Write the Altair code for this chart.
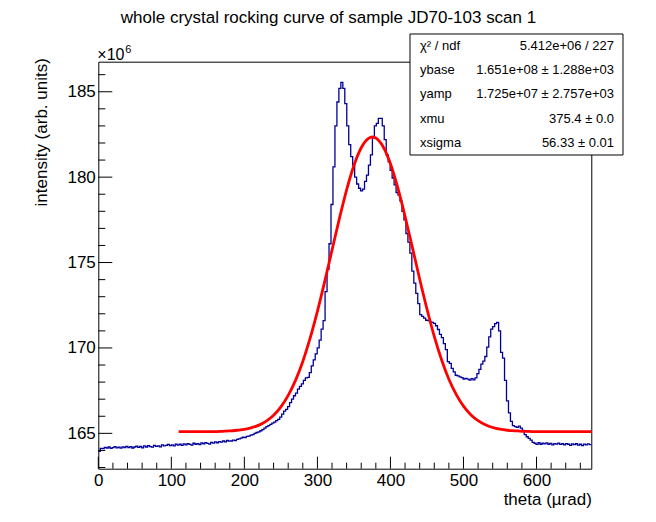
import altair as alt
import pandas as pd
import numpy as np

# ---------------- data ----------------
x_min = 0.0
x_max = 675.0
n_bins = 250

# histogram contents (units of 1e6), one value per bin
intensity = [
    163.95, 164.12, 164.10, 164.18, 164.14, 164.20, 164.12, 164.16, 164.22, 164.15,
    164.19, 164.13, 164.21, 164.17, 164.24, 164.16, 164.22, 164.14, 164.20, 164.25,
    164.18, 164.23, 164.15, 164.26, 164.20, 164.28, 164.22, 164.19, 164.30, 164.24,
    164.27, 164.21, 164.33, 164.26, 164.30, 164.35, 164.28, 164.33, 164.26, 164.37,
    164.31, 164.36, 164.29, 164.38, 164.33, 164.40, 164.35, 164.31, 164.42, 164.36,
    164.40, 164.34, 164.44, 164.39, 164.46, 164.41, 164.37, 164.47, 164.43, 164.50,
    164.45, 164.52, 164.48, 164.55, 164.50, 164.58, 164.54,
    164.55, 164.60, 164.57, 164.65, 164.68, 164.72, 164.77, 164.75, 164.82, 164.84,
    164.90, 164.93, 165.00, 165.05, 165.08, 165.15, 165.22, 165.30, 165.39, 165.45,
    165.52, 165.60, 165.66, 165.74, 165.82, 165.95, 166.12, 166.30, 166.40, 166.56,
    166.80, 167.00, 167.20, 167.36, 167.59, 167.75, 167.90, 168.10, 168.25, 168.28,
    168.55, 168.95, 169.30, 169.65, 170.00, 170.46, 171.10, 171.60, 173.30, 174.60,
    176.10, 178.40, 180.60, 183.00, 184.40, 185.20, 185.55, 185.20, 184.30, 183.00,
    181.90, 181.20, 180.70, 180.00, 179.60, 179.35, 179.20, 179.30, 179.75, 180.12,
    180.70, 181.30, 182.30, 183.00, 183.15, 183.44, 183.44, 183.00, 182.20, 181.30,
    180.90, 180.40, 179.95, 179.55, 179.10, 178.95, 178.60, 178.00, 177.50, 176.70,
    176.20, 175.55, 174.50,
    173.80, 173.20, 172.60, 171.95, 171.85, 171.75, 171.62, 171.60, 171.53, 171.50,
    171.44, 171.30, 171.08, 170.80, 170.60, 170.25, 169.90, 169.20, 169.10, 168.80,
    168.60, 168.40, 168.36, 168.31, 168.26, 168.18, 168.22, 168.17, 168.12, 168.20,
    168.13, 168.25, 168.50, 168.75, 169.05, 169.23, 169.50, 170.05, 170.65, 171.10,
    171.25, 171.42, 171.50, 171.00, 169.74, 169.40, 168.10, 166.90, 166.20, 165.70,
    165.45, 165.39, 165.35, 165.42, 165.30, 165.17, 164.92, 164.80, 164.70, 164.60,
    164.47, 164.42, 164.35, 164.45, 164.36, 164.42, 164.38, 164.44, 164.36, 164.41,
    164.33, 164.40, 164.37, 164.43, 164.35, 164.39, 164.32, 164.40, 164.36, 164.30,
    164.38, 164.34, 164.39, 164.31, 164.36, 164.28, 164.37, 164.33, 164.38, 164.34,
]

fit_theta = [110, 120, 130, 140, 150, 160, 170, 180, 190, 200,
             210, 220, 230, 240, 250, 260, 270, 280, 290, 300,
             310, 320, 330, 340, 350, 360, 370, 375, 380, 390,
             400, 410, 420, 430, 440, 450, 460, 470, 480, 490,
             500, 510, 520, 530, 540, 550, 560, 570, 580, 590,
             600, 610, 620, 630, 640, 650, 660, 670, 675]
fit_intensity = [165.10, 165.10, 165.10, 165.10, 165.10, 165.10, 165.12, 165.14, 165.18, 165.23,
                 165.33, 165.48, 165.72, 166.06, 166.55, 167.22, 168.10, 169.21, 170.57, 172.14,
                 173.89, 175.73, 177.56, 179.26, 180.68, 181.72, 182.27, 182.35, 182.29, 181.78,
                 180.78, 179.38, 177.71, 175.89, 174.04, 172.28, 170.68, 169.31, 168.17, 167.28,
                 166.59, 166.09, 165.74, 165.50, 165.34, 165.24, 165.18, 165.15, 165.12, 165.11,
                 165.10, 165.10, 165.10, 165.10, 165.10, 165.10, 165.10, 165.10, 165.10]

x_major = [0, 100, 200, 300, 400, 500, 600]
x_minor = [v for v in range(20, 675, 20) if v % 100 != 0]
y_major = [165, 170, 175, 180, 185]
y_minor = [v for v in range(163, 187) if v % 5 != 0]
y_domain = [162.93, 186.76]

title_text = "whole crystal rocking curve of sample JD70-103 scan 1"
x_title = "theta (\u00b5rad)"
y_title = "intensity (arb. units)"
stat_names = ["\u03c7\u00b2 / ndf", "ybase", "yamp", "xmu", "xsigma"]
stat_values = ["5.412e+06 / 227", "1.651e+08 \u00b1 1.288e+03",
               "1.725e+07 \u00b1 2.757e+03", "375.4 \u00b1 0.0", "56.33 \u00b1 0.01"]

assert len(intensity) == n_bins
assert len(fit_theta) == len(fit_intensity)

# ---------------- build ----------------
FONT = "Liberation Sans"
W, H = 493, 407

bw = (x_max - x_min) / n_bins
edges = x_min + bw * np.arange(n_bins + 1)
hist_df = pd.DataFrame({"theta": edges, "intensity": intensity + [intensity[-1]]})
fit_df = pd.DataFrame({"theta": fit_theta, "intensity": fit_intensity})

xs = alt.Scale(domain=[x_min, x_max], nice=False, zero=False)
ys = alt.Scale(domain=y_domain, nice=False, zero=False)

ax_x = alt.Axis(orient="bottom", values=x_major, ticks=False, tickSize=0, domain=False,
                grid=False, labelFont=FONT, labelFontSize=17, labelColor="black",
                labelPadding=4, labelFlush=False, labelOverlap=False,
                title=x_title, titleFont=FONT, titleFontSize=17,
                titleFontWeight="normal", titleColor="black", titleX=W, titleY=36,
                titleAlign="right", titleBaseline="alphabetic")
ax_y = alt.Axis(orient="left", values=y_major, ticks=False, tickSize=0, domain=False,
                grid=False, labelFont=FONT, labelFontSize=17, labelColor="black",
                labelPadding=3, labelFlush=False, labelOverlap=False, format="d",
                title=y_title, titleFont=FONT,
                titleFontSize=17, titleFontWeight="normal", titleColor="black",
                titleX=-57, titleY=-4, titleAngle=270, titleAlign="right",
                titleBaseline="middle")

hist_layer = alt.Chart(hist_df).mark_line(
    interpolate="step-after", color="#000099", strokeWidth=1.3
).encode(
    x=alt.X("theta:Q", scale=xs, axis=ax_x),
    y=alt.Y("intensity:Q", scale=ys, axis=ax_y),
)
fit_layer = alt.Chart(fit_df).mark_line(
    color="#ff0000", strokeWidth=2.8, interpolate="monotone"
).encode(
    x=alt.X("theta:Q", scale=xs),
    y=alt.Y("intensity:Q", scale=ys),
)


def x_ticks(vals, length):
    return alt.Chart(pd.DataFrame({"theta": vals})).mark_rule(color="black", strokeWidth=1).encode(
        x=alt.X("theta:Q", scale=xs), y=alt.value(H), y2=alt.value(H - length))


def y_ticks(vals, length):
    return alt.Chart(pd.DataFrame({"intensity": vals})).mark_rule(color="black", strokeWidth=1).encode(
        y=alt.Y("intensity:Q", scale=ys), x=alt.value(0), x2=alt.value(length))


tick_layers = [x_ticks(x_major, 12), x_ticks(x_minor, 6), y_ticks(y_major, 14), y_ticks(y_minor, 7)]

one = pd.DataFrame({"k": [0]})
annot = []
# title
annot.append(alt.Chart(one).mark_text(
    font=FONT, fontSize=17, align="left", baseline="alphabetic", color="black"
).encode(x=alt.value(22.5), y=alt.value(-38.4), text=alt.value(title_text)))
# x10^6
annot.append(alt.Chart(one).mark_text(
    font=FONT, fontSize=16, align="left", baseline="alphabetic", color="black"
).encode(x=alt.value(-1), y=alt.value(-1.7), text=alt.value("\u00d710")))
annot.append(alt.Chart(one).mark_text(
    font=FONT, fontSize=11, align="left", baseline="alphabetic", color="black"
).encode(x=alt.value(27.0), y=alt.value(-8.7), text=alt.value("6")))
# stats box
annot.append(alt.Chart(one).mark_rect(fill="white", stroke="black", strokeWidth=1).encode(
    x=alt.value(311.7), x2=alt.value(524.7), y=alt.value(-27.7), y2=alt.value(93.3)))
row_y = [-15.6, 8.6, 32.8, 57.0, 81.2]
for name, val, yy in zip(stat_names, stat_values, row_y):
    annot.append(alt.Chart(one).mark_text(
        font=FONT, fontSize=13, align="left", baseline="middle", color="black"
    ).encode(x=alt.value(321.7), y=alt.value(yy), text=alt.value(name)))
    annot.append(alt.Chart(one).mark_text(
        font=FONT, fontSize=13, align="right", baseline="middle", color="black"
    ).encode(x=alt.value(515.7), y=alt.value(yy), text=alt.value(val)))

chart = alt.layer(hist_layer, fit_layer, *tick_layers, *annot).properties(
    width=W, height=H,
    autosize=alt.AutoSizeParams(type="none"),
    padding={"left": 90.3, "top": 53.7, "right": 45, "bottom": 43},
    background="white",
).configure_view(stroke="black", strokeWidth=1)

chart.save("out.html", embed_options={"renderer": "svg", "actions": False})
